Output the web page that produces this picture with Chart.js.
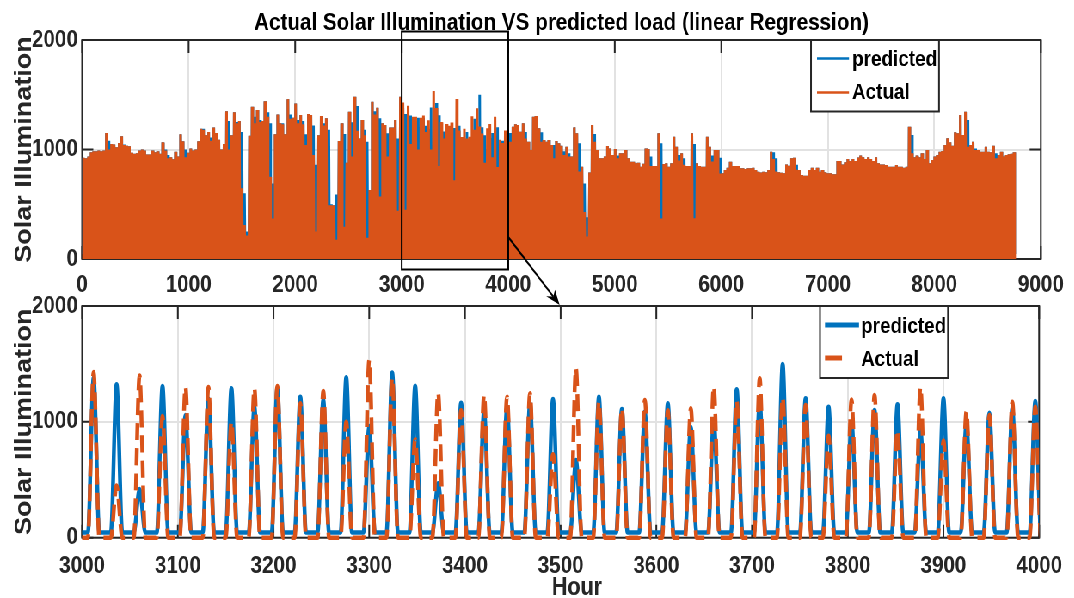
<!DOCTYPE html>
<html>
<head>
<meta charset="utf-8">
<script src="https://cdn.jsdelivr.net/npm/chart.js@4.4.1/dist/chart.umd.min.js"></script>
<style>
  html, body { margin: 0; padding: 0; background: #fff; overflow: hidden; }
  /* the original figure is narrower than its fonts: draw wide, squeeze horizontally */
  #fig { position: absolute; left: 0; top: 0; width: 1249px; height: 598px;
         transform: scaleX(0.86); transform-origin: 0 0; }
  #fig canvas { position: absolute; left: 0; top: 0; }
</style>
</head>
<body>
<div id="fig">
  <canvas id="zoomChart" width="1249" height="598"></canvas>
  <canvas id="yearChart" width="1249" height="598"></canvas>
</div>
<script>
// daily peak of solar illumination, day 0 .. 364 (hour = day * 24 + hour of day)
const actualPeak = [
  925, 920, 935, 975, 985, 985, 990, 985, 990, 1150,
  1000, 1050, 1045, 1020, 1060, 1120, 1040, 1035, 1030, 970,
  960, 965, 990, 1000, 990, 955, 955, 990, 975, 985,
  960, 1065, 990, 920, 930, 910, 980, 935, 1140, 1075,
  930, 970, 1010, 990, 1000, 1075, 1190, 1180, 1130, 1160,
  1080, 1200, 1150, 1090, 1000, 1050, 1350, 1000, 1130, 1340,
  1240, 1260, 645, 310, 215, 1125, 1390, 1240, 1360, 1250,
  1260, 1440, 1300, 750, 370, 1140, 1320, 1240, 1230, 1140,
  1460, 1280, 1290, 1420, 1240, 1315, 1230, 1040, 1325, 1315,
  950, 250, 1130, 1306, 1220, 1285, 490, 490, 490, 175,
  1077, 1240, 295, 880, 1345, 935, 1482, 1172, 1100, 1270,
  1130, 195, 630, 1437, 1320, 1382, 570, 1240, 1224, 935,
  1200, 1200, 1270, 440, 1482, 1430, 450, 1400, 1050, 1300,
  1300, 1000, 1290, 1310, 1160, 1266, 1000, 1534, 1380, 850,
  1250, 1100, 1232, 1217, 1246, 720, 1462, 1174, 1115, 1189,
  1100, 1117, 1304, 1180, 1376, 1210, 1145, 880, 1194, 1232,
  930, 1298, 840, 1088, 1059, 1174, 1131, 1070, 1208, 1230,
  1224, 1163, 1240, 1100, 1071, 995, 1300, 1306, 1193, 1071,
  1087, 1071, 1087, 1041, 920, 1077, 1056, 1035, 950, 1026,
  935, 935, 1202, 1148, 800, 843, 430, 205, 790, 1224,
  1070, 995, 920, 920, 935, 1032, 1010, 950, 1004, 920,
  965, 965, 995, 920, 889, 889, 874, 880, 843, 870,
  1010, 1004, 850, 850, 850, 1148, 371, 868, 874, 843,
  874, 1117, 1026, 900, 965, 860, 850, 850, 1148, 371,
  874, 850, 843, 843, 1117, 1026, 890, 995, 995, 780,
  782, 813, 834, 889, 850, 850, 850, 828, 828, 822,
  828, 828, 834, 813, 797, 791, 797, 791, 813, 980,
  913, 800, 791, 788, 782, 864, 852, 920, 925, 815,
  813, 767, 761, 761, 813, 834, 813, 834, 797, 813,
  791, 782, 782, 773, 773, 895, 895, 864, 883, 913,
  895, 913, 895, 928, 944, 928, 913, 928, 913, 895,
  928, 874, 864, 864, 858, 843, 843, 843, 858, 843,
  843, 834, 843, 1208, 965, 928, 944, 928, 965, 913,
  995, 874, 904, 935, 950, 980, 986, 1041, 1102, 1065,
  1035, 1157, 1148, 1315, 1132, 1345, 1025, 1041, 1071, 995,
  995, 980, 980, 1026, 980, 974, 1035, 920, 950, 980,
  935, 950, 956, 960, 974
];
const predPeak = [
  925, 920, 935, 975, 985, 985, 990, 985, 990, 1150,
  1080, 1050, 1045, 1020, 1060, 1120, 1045, 1035, 1030, 970,
  960, 965, 990, 1000, 990, 955, 955, 990, 975, 985,
  960, 1065, 1000, 950, 930, 910, 980, 935, 1140, 1075,
  1000, 970, 1010, 990, 1000, 1075, 1190, 1190, 1130, 1160,
  1110, 1200, 1150, 1090, 1000, 1050, 1350, 1260, 1130, 1340,
  1250, 1260, 1160, 600, 250, 1125, 1390, 1300, 1360, 1270,
  1260, 1440, 1340, 1240, 690, 1140, 1320, 1240, 1240, 1140,
  1460, 1320, 1290, 1420, 1270, 1315, 1260, 1140, 1325, 1315,
  1220, 860, 1130, 1306, 1240, 1285, 1180, 500, 490, 590,
  1077, 1240, 1141, 880, 1345, 1248, 1482, 1397, 1100, 1270,
  1180, 1071, 630, 1437, 1350, 1382, 1285, 1240, 1224, 1148,
  1200, 1200, 1270, 1100, 1482, 1380, 1324, 420, 1310, 1060,
  1200, 1290, 1130, 1290, 1217, 1190, 1384, 964, 1425, 1312,
  470, 1165, 1100, 1130, 1160, 1197, 670, 1217, 1110, 1088,
  1160, 958, 1016, 1281, 1189, 1500, 1203, 1131, 1002, 1102,
  1151, 930, 1203, 987, 1079, 1117, 1180, 1150, 1208, 1230,
  1224, 1163, 1240, 1160, 1071, 995, 1300, 1306, 1193, 1157,
  1087, 1071, 1087, 1041, 1041, 1077, 1056, 1035, 985, 1026,
  965, 935, 1202, 1148, 1056, 843, 690, 380, 790, 1224,
  1141, 995, 920, 920, 935, 1032, 1010, 950, 1004, 944,
  965, 965, 995, 920, 889, 889, 874, 880, 843, 870,
  1010, 1004, 935, 850, 850, 1148, 1056, 868, 874, 843,
  874, 1117, 1026, 950, 965, 920, 850, 850, 1148, 1050,
  874, 850, 843, 843, 1117, 1026, 944, 995, 995, 925,
  782, 813, 834, 889, 850, 850, 850, 828, 828, 822,
  828, 828, 834, 813, 797, 791, 797, 791, 813, 980,
  975, 920, 791, 788, 782, 864, 852, 920, 925, 860,
  813, 767, 761, 761, 813, 834, 813, 834, 797, 813,
  791, 782, 782, 773, 773, 895, 895, 864, 883, 913,
  895, 913, 895, 928, 944, 928, 913, 928, 913, 895,
  928, 874, 864, 864, 858, 843, 843, 843, 858, 843,
  843, 834, 843, 1208, 1132, 928, 944, 928, 965, 913,
  995, 874, 904, 935, 950, 980, 986, 1041, 1102, 1065,
  1035, 1157, 1148, 1315, 1132, 1345, 1270, 1041, 1071, 1010,
  995, 980, 980, 1026, 980, 974, 1035, 965, 950, 980,
  935, 950, 956, 960, 974
];
// night level of each series, and the hours of the day the curve is read at
const actualNight = 0;
const predNight = 45;
const sunrise = 6, noon = 12, sunset = 18;

const illumTicks = [0, 1000, 2000];
const yearTicks = [0, 1000, 2000, 3000, 4000, 5000, 6000, 7000, 8000, 9000];
const zoomTicks = [3000, 3100, 3200, 3300, 3400, 3500, 3600, 3700, 3800, 3900, 4000];
const zoomFrom = 3000, zoomTo = 4000;

const TITLE = 'Actual Solar Illumination VS predicted load (linear Regression)';
const BLUE = '#0072BD';
const ORANGE = '#D95319';
const AXIS = '#262626';
const GRID = '#e2e2e2';
const FONT = '"Liberation Sans", Arial, Helvetica, sans-serif';
const SQUEEZE = 0.86;
const ux = px => px / SQUEEZE;   // screen x -> canvas x

function dailyPoints(peaks, night) {
  const pts = [];
  peaks.forEach((p, d) => {
    pts.push({ x: d * 24 + sunrise, y: night });
    pts.push({ x: d * 24 + noon, y: p });
    pts.push({ x: d * 24 + sunset, y: night });
  });
  return pts;
}

function scales(xMin, xMax, xTicks, xPad) {
  const tickFont = { family: FONT, size: 24, weight: 'bold' };
  return {
    x: {
      type: 'linear', min: xMin, max: xMax,
      afterBuildTicks: s => { s.ticks = xTicks.map(v => ({ value: v })); },
      ticks: { color: AXIS, font: tickFont, padding: xPad, maxRotation: 0, autoSkip: false,
               callback: v => String(v) },
      grid: { color: GRID, lineWidth: 2, drawTicks: false },
      border: { display: false },
      afterFit: s => { s.height = 40; }
    },
    y: {
      min: 0, max: 2000,
      afterBuildTicks: s => { s.ticks = illumTicks.map(v => ({ value: v })); },
      ticks: { color: AXIS, font: tickFont, padding: 5, callback: v => String(v) },
      grid: { color: GRID, lineWidth: 2, drawTicks: false },
      border: { display: false },
      title: { display: true, text: 'Solar Illumination', color: AXIS,
               font: { family: FONT, size: 27, weight: 'bold' }, padding: { top: 12, bottom: 0 } },
      afterFit: s => { s.width = 95.5; }
    }
  };
}

// MATLAB style box with inward tick marks, under the data
const frame = {
  id: 'frame',
  beforeDatasetsDraw(chart) {
    const { ctx, chartArea: a, scales: { x, y } } = chart;
    const tl = 13;
    ctx.save();
    ctx.strokeStyle = AXIS;
    ctx.lineWidth = 2;
    ctx.beginPath();
    x.ticks.forEach(t => {
      const px = x.getPixelForValue(t.value);
      ctx.moveTo(px, a.top); ctx.lineTo(px, a.top + tl);
      ctx.moveTo(px, a.bottom); ctx.lineTo(px, a.bottom - tl);
    });
    y.ticks.forEach(t => {
      const py = y.getPixelForValue(t.value);
      ctx.moveTo(a.left, py); ctx.lineTo(a.left + tl, py);
      ctx.moveTo(a.right, py); ctx.lineTo(a.right - tl, py);
    });
    ctx.stroke();
    ctx.strokeRect(a.left, a.top, a.right - a.left, a.bottom - a.top);
    ctx.restore();
  }
};

function drawLegend(chart, box, rows) {
  const ctx = chart.ctx;
  ctx.save();
  ctx.fillStyle = '#fff';
  ctx.fillRect(ux(box.x0), box.y0, ux(box.x1) - ux(box.x0), box.y1 - box.y0);
  ctx.strokeStyle = AXIS;
  ctx.lineWidth = 2;
  ctx.strokeRect(ux(box.x0), box.y0, ux(box.x1) - ux(box.x0), box.y1 - box.y0);
  rows.forEach((r, i) => {
    const ds = chart.data.datasets[i];
    ctx.beginPath();
    ctx.strokeStyle = ds.borderColor;
    ctx.lineWidth = r.w;
    ctx.moveTo(ux(r.x0), r.y);
    ctx.lineTo(ux(r.x1), r.y);
    ctx.stroke();
    ctx.fillStyle = '#000';
    ctx.font = 'bold 22px ' + FONT;
    ctx.textAlign = 'left';
    ctx.textBaseline = 'middle';
    ctx.fillText(ds.label, ux(box.tx), r.ty);
  });
  ctx.restore();
}

const zoomChart = new Chart(document.getElementById('zoomChart'), {
  type: 'line',
  data: {
    datasets: [
      { label: 'predicted', data: dailyPoints(predPeak, predNight), borderColor: BLUE,
        borderWidth: 4.5, pointRadius: 0, cubicInterpolationMode: 'monotone',
        borderJoinStyle: 'round', order: 2, clip: { left: 0, right: 0, top: 4, bottom: 4 } },
      { label: 'Actual', data: dailyPoints(actualPeak, actualNight), borderColor: ORANGE,
        borderWidth: 4.5, borderDash: [17, 8], pointRadius: 0, cubicInterpolationMode: 'monotone',
        order: 1, clip: { left: 0, right: 0, top: 4, bottom: 4 } }
    ]
  },
  options: {
    responsive: false, animation: false, devicePixelRatio: 1,
    layout: { padding: { top: 306, bottom: 20.3, left: 0, right: 34.5 } },
    plugins: { legend: { display: false }, tooltip: { enabled: false } },
    scales: scales(zoomFrom, zoomTo, zoomTicks, 14)
  },
  plugins: [frame, {
    id: 'zoomDecor',
    afterDatasetsDraw(chart) {
      drawLegend(chart, { x0: 820, x1: 948, y0: 306, y1: 378, tx: 861 }, [
        { x0: 825, x1: 859, y: 325, ty: 327, w: 5 },
        { x0: 825, x1: 842, y: 358, ty: 360, w: 5 }
      ]);
      const ctx = chart.ctx;
      ctx.save();
      ctx.fillStyle = AXIS;
      ctx.font = 'bold 25px ' + FONT;
      ctx.textAlign = 'center';
      ctx.textBaseline = 'alphabetic';
      ctx.fillText('Hour', ux(577), 595);
      ctx.restore();
    }
  }]
});

const yearChart = new Chart(document.getElementById('yearChart'), {
  type: 'line',
  data: {
    datasets: [
      { label: 'predicted', data: dailyPoints(predPeak, predNight), borderColor: BLUE,
        borderWidth: 3, pointRadius: 0, order: 2 },
      { label: 'Actual', data: dailyPoints(actualPeak, actualNight), borderColor: ORANGE,
        borderWidth: 3, pointRadius: 0, order: 1 }
    ]
  },
  options: {
    responsive: false, animation: false, devicePixelRatio: 1,
    layout: { padding: { top: 40, bottom: 299, left: 0, right: 33 } },
    plugins: { legend: { display: false }, tooltip: { enabled: false } },
    scales: scales(0, 9000, yearTicks, 12)
  },
  plugins: [frame, {
    id: 'yearDecor',
    afterDatasetsDraw(chart) {
      const { ctx, chartArea: a, scales: { x } } = chart;
      drawLegend(chart, { x0: 811, x1: 939, y0: 40, y1: 111.5, tx: 852 }, [
        { x0: 817, x1: 849, y: 58.5, ty: 60, w: 2.5 },
        { x0: 817, x1: 849, y: 92.5, ty: 93, w: 2.5 }
      ]);
      ctx.save();
      // title
      ctx.fillStyle = '#000';
      ctx.font = 'bold 24px ' + FONT;
      ctx.textAlign = 'center';
      ctx.textBaseline = 'alphabetic';
      ctx.fillText(TITLE, (a.left + a.right) / 2, 30);
      // zoom window and arrow to the lower plot
      const x0 = x.getPixelForValue(zoomFrom), x1 = x.getPixelForValue(zoomTo);
      ctx.strokeStyle = '#000';
      ctx.lineWidth = 2;
      ctx.strokeRect(x0, 31.5, x1 - x0, 238);
      const zx = zoomChart.scales.x;
      const sx = x1 * SQUEEZE, sy = 237;
      const tx = zx.getPixelForValue((zoomFrom + zoomTo) / 2) * SQUEEZE - 1;
      const ty = zoomChart.chartArea.top - 1;
      const len = Math.hypot(tx - sx, ty - sy);
      const dx = (tx - sx) / len, dy = (ty - sy) / len;
      const L = 15, W = 5.5;
      ctx.beginPath();
      ctx.moveTo(ux(sx), sy);
      ctx.lineTo(ux(tx - dx * L * 0.7), ty - dy * L * 0.7);
      ctx.stroke();
      ctx.fillStyle = '#000';
      ctx.beginPath();
      ctx.moveTo(ux(tx), ty);
      ctx.lineTo(ux(tx - dx * L - dy * W), ty - dy * L + dx * W);
      ctx.lineTo(ux(tx - dx * L * 0.7), ty - dy * L * 0.7);
      ctx.lineTo(ux(tx - dx * L + dy * W), ty - dy * L - dx * W);
      ctx.closePath();
      ctx.fill();
      ctx.restore();
    }
  }]
});
</script>
</body>
</html>
